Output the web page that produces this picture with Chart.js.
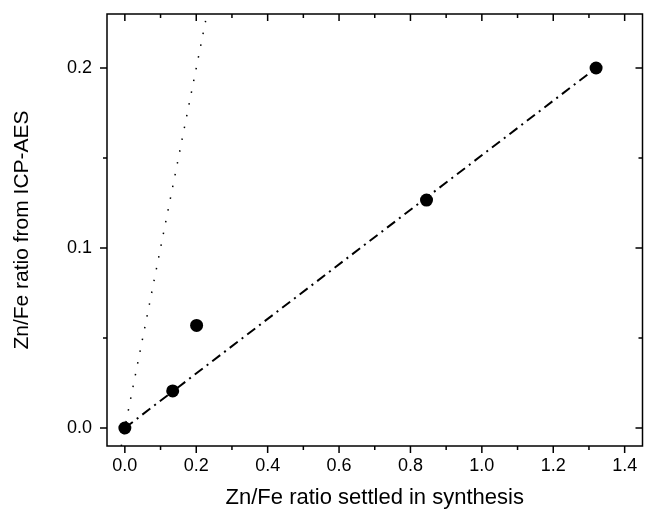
<!DOCTYPE html>
<html lang="en">
<head>
  <meta charset="UTF-8">
  <title>Zn/Fe ratio: synthesis vs ICP-AES</title>
  <script src="https://cdn.jsdelivr.net/npm/chart.js"></script>
  <style>
    html, body { margin: 0; padding: 0; background: #fff; }
    canvas { display: block; }
  </style>
</head>
<body>
  <canvas id="ratioChart" width="649" height="523"></canvas>

  <script>
    // measured points
    const synthRatio = [0, 0.134, 0.201, 0.845, 1.32];
    const icpRatio = [0, 0.0206, 0.057, 0.1266, 0.2];

    // dash-dot linear fit
    const fitX = [0, 1.32];
    const fitY = [0, 0.2];

    // dotted y = x line
    const idealX = [-0.01, 0.235];
    const idealY = [-0.01, 0.235];

    // axis ticks
    const xMajor = [0, 0.2, 0.4, 0.6, 0.8, 1.0, 1.2, 1.4];
    const xMinor = [0.1, 0.3, 0.5, 0.7, 0.9, 1.1, 1.3];
    const yMajor = [0, 0.1, 0.2];
    const yMinor = [0.05, 0.15];

    const FONT = "'Liberation Sans', Arial, sans-serif";

    const toPoints = (xs, ys) => xs.map((x, i) => ({ x: x, y: ys[i] }));

    // box frame with ticks out on bottom/left and in on top/right
    const framePlugin = {
      id: "frame",
      afterDatasetsDraw(chart) {
        const { ctx, chartArea: a, scales } = chart;
        const x = scales.x, y = scales.y;
        ctx.save();
        ctx.strokeStyle = "#000";
        ctx.lineWidth = 1.5;
        ctx.strokeRect(a.left, a.top, a.right - a.left, a.bottom - a.top);

        function xTick(v, len) {
          const px = x.getPixelForValue(v);
          ctx.beginPath();
          ctx.moveTo(px, a.bottom); ctx.lineTo(px, a.bottom + len);
          ctx.moveTo(px, a.top); ctx.lineTo(px, a.top + len);
          ctx.stroke();
        }
        function yTick(v, len) {
          const py = y.getPixelForValue(v);
          ctx.beginPath();
          ctx.moveTo(a.left, py); ctx.lineTo(a.left - len, py);
          ctx.moveTo(a.right, py); ctx.lineTo(a.right - len, py);
          ctx.stroke();
        }
        xMajor.forEach(v => xTick(v, 7));
        xMinor.forEach(v => xTick(v, 4));
        yMajor.forEach(v => yTick(v, 7));
        yMinor.forEach(v => yTick(v, 4));
        ctx.restore();
      }
    };

    new Chart(document.getElementById("ratioChart"), {
      type: "scatter",
      data: {
        datasets: [
          {
            data: toPoints(idealX, idealY),
            showLine: true,
            borderColor: "#000",
            borderWidth: 1.5,
            borderDash: [1.5, 10.5],
            pointRadius: 0
          },
          {
            data: toPoints(fitX, fitY),
            showLine: true,
            borderColor: "#000",
            borderWidth: 2,
            borderDash: [10, 5, 2, 5],
            pointRadius: 0
          },
          {
            data: toPoints(synthRatio, icpRatio),
            pointRadius: 6.5,
            pointBackgroundColor: "#000",
            pointBorderWidth: 0
          }
        ]
      },
      options: {
        responsive: false,
        animation: false,
        layout: { padding: { top: 14, right: 2, left: 0, bottom: 0 } },
        plugins: {
          legend: { display: false },
          tooltip: { enabled: false }
        },
        scales: {
          x: {
            type: "linear",
            min: -0.05,
            max: 1.45,
            grid: { display: false, drawTicks: false },
            border: { display: false },
            afterBuildTicks: s => { s.ticks = xMajor.map(v => ({ value: v })); },
            afterFit: s => { s.height = 77; s.paddingLeft = 0; s.paddingRight = 0; },
            ticks: {
              callback: v => v.toFixed(1),
              color: "#000",
              font: { family: FONT, size: 18 },
              padding: 9,
              maxRotation: 0,
              autoSkip: false
            },
            title: {
              display: true,
              text: "Zn/Fe ratio settled in synthesis",
              color: "#000",
              font: { family: FONT, size: 22 },
              padding: { top: 0, bottom: 12 }
            }
          },
          y: {
            type: "linear",
            min: -0.01,
            max: 0.23,
            grid: { display: false, drawTicks: false },
            border: { display: false },
            afterBuildTicks: s => { s.ticks = yMajor.map(v => ({ value: v })); },
            afterFit: s => { s.width = 107; s.paddingTop = 0; s.paddingBottom = 0; },
            ticks: {
              callback: v => v.toFixed(1),
              color: "#000",
              font: { family: FONT, size: 18 },
              padding: 15,
              autoSkip: false
            },
            title: {
              display: true,
              text: "Zn/Fe ratio from ICP-AES",
              color: "#000",
              font: { family: FONT, size: 21 },
              padding: { top: 10, bottom: 0 }
            }
          }
        }
      },
      plugins: [framePlugin]
    });
  </script>
</body>
</html>
